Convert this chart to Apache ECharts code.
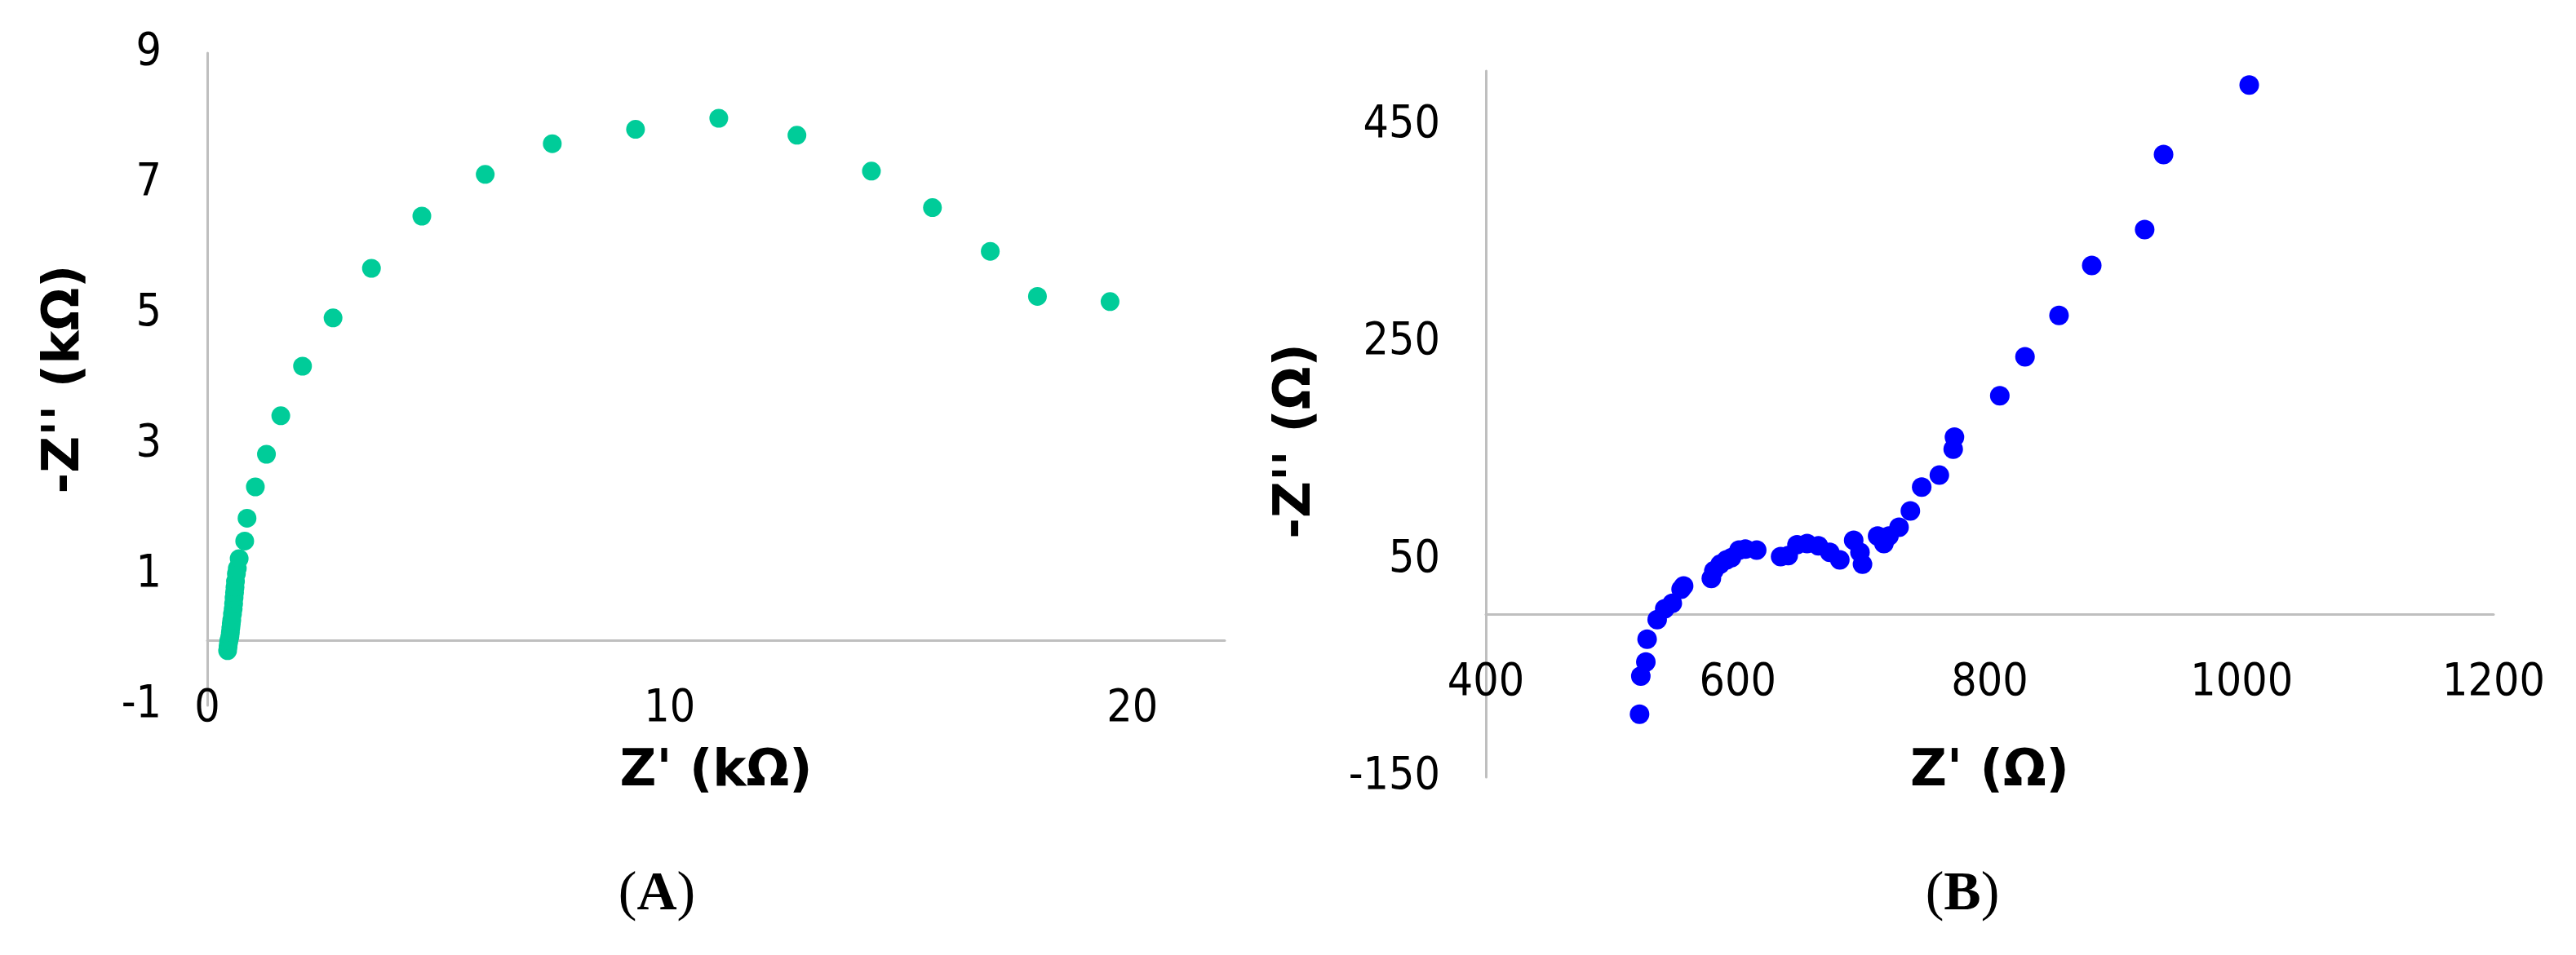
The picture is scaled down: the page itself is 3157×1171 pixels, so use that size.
<!DOCTYPE html>
<html><head><meta charset="utf-8">
<script src="https://cdn.jsdelivr.net/npm/echarts@6/dist/echarts.min.js"></script>
<style>html,body{margin:0;padding:0;background:#fff}#c{width:3157px;height:1171px}</style>
</head><body><div id="c"></div>
<script>
// Panel A: Z' (kΩ) vs -Z'' (kΩ)
const zA_re = [0.44,0.45,0.46,0.47,0.49,0.50,0.51,0.52,0.53,0.545,0.56,0.57,0.58,0.59,0.60,0.61,0.63,0.65,0.69,0.81,0.86,1.04,1.28,1.59,2.06,2.72,3.55,4.64,6.01,7.46,9.26,11.06,12.75,14.36,15.68,16.93,17.95,19.52];
const zA_im = [-0.16,-0.10,-0.04,0.00,0.06,0.12,0.19,0.25,0.31,0.40,0.48,0.56,0.65,0.73,0.81,0.90,1.02,1.10,1.25,1.52,1.87,2.35,2.85,3.44,4.20,4.94,5.70,6.50,7.14,7.61,7.83,8.00,7.74,7.19,6.63,5.96,5.27,5.19];
// Panel B: Z' (Ω) vs -Z'' (Ω)
const zB_re = [522,523,527,528,536,542,548,555,557,579,581,586,591,595,601,606,615,634,640,647,655,664,673,681,692,697,699,711,716,720,728,737,746,760,771,772,808,828,855,881,923,938,1006];
const zB_im = [-92,-57,-44,-23,-5,5,10,23,26,33,40,46,50,52,59,60,59,53,54,64,65,63,57,50,68,57,46,72,65,72,80,95,117,128,152,163,201,237,275,321,354,423,487];
// tick labels
const ticksA_x = [0,10,20];
const ticksA_y = [-1,1,3,5,7,9];
const ticksB_x = [400,600,800,1000,1200];
const ticksB_y = [-150,50,250,450];
const panelNames = ['A','B'];
const axisNames = {ax:"Z' (kΩ)", ay:"-Z'' (kΩ)", bx:"Z' (Ω)", by:"-Z'' (Ω)"};

const TICK_FONT = {color:'#000', fontSize:55, fontFamily:"'DejaVu Sans Condensed', 'DejaVu Sans'", formatter:(v)=>String(v)};
const NAME_FONT = {color:'#000', fontSize:62, fontWeight:'bold', fontFamily:'DejaVu Sans'};
function axis(extra){
  return Object.assign({
    type:'value',
    axisLine:{show:true,onZero:true,lineStyle:{color:'#BFBFBF',width:3}},
    axisTick:{show:false},
    splitLine:{show:false},
    nameLocation:'middle'
  }, extra);
}
const chart = echarts.init(document.getElementById('c'), null, {renderer:'canvas'});
chart.setOption({
  animation:false,
  backgroundColor:'#fff',
  grid:[
    {left:254, top:65, width:1247, height:800},
    {left:1821, top:87, width:1235, height:866}
  ],
  xAxis:[
    axis({gridIndex:0, min:0, max:22, name:axisNames.ax, nameGap:51, nameTextStyle:NAME_FONT,
      axisLabel:Object.assign({margin:-23, customValues:ticksA_x}, TICK_FONT)}),
    axis({gridIndex:1, min:400, max:1200, interval:200, name:axisNames.bx, nameGap:-37, nameTextStyle:NAME_FONT,
      axisLabel:Object.assign({margin:-143, customValues:ticksB_x}, TICK_FONT)})
  ],
  yAxis:[
    axis({gridIndex:0, min:-1, max:9, name:axisNames.ay, nameGap:143, nameTextStyle:NAME_FONT,
      axisLabel:Object.assign({margin:56, customValues:ticksA_y}, TICK_FONT)}),
    axis({gridIndex:1, min:-150, max:500, name:axisNames.by, nameGap:201,
      nameTextStyle:Object.assign({padding:[0,42,0,0]}, NAME_FONT),
      axisLabel:Object.assign({margin:56, customValues:ticksB_y}, TICK_FONT)})
  ],
  series:[
    {type:'scatter', xAxisIndex:0, yAxisIndex:0, symbol:'circle', symbolSize:23,
      itemStyle:{color:'#00CC99', opacity:1}, data: zA_re.map((v,i)=>[v, zA_im[i]])},
    {type:'scatter', xAxisIndex:1, yAxisIndex:1, symbol:'circle', symbolSize:24,
      itemStyle:{color:'#0000FF', opacity:1}, data: zB_re.map((v,i)=>[v, zB_im[i]])}
  ],
  graphic: panelNames.map((n,i)=>({
    type:'text', x: i===0 ? 805 : 2405, y:1097,
    style:{text:'{p|(}{b|'+n+'}{p|)}', align:'center', verticalAlign:'middle',
      rich:{p:{fontFamily:'Liberation Serif', fontSize:68, fill:'#000'},
            b:{fontFamily:'Liberation Serif', fontSize:68, fontWeight:'bold', fill:'#000'}}}
  }))
});
</script>
</body></html>
